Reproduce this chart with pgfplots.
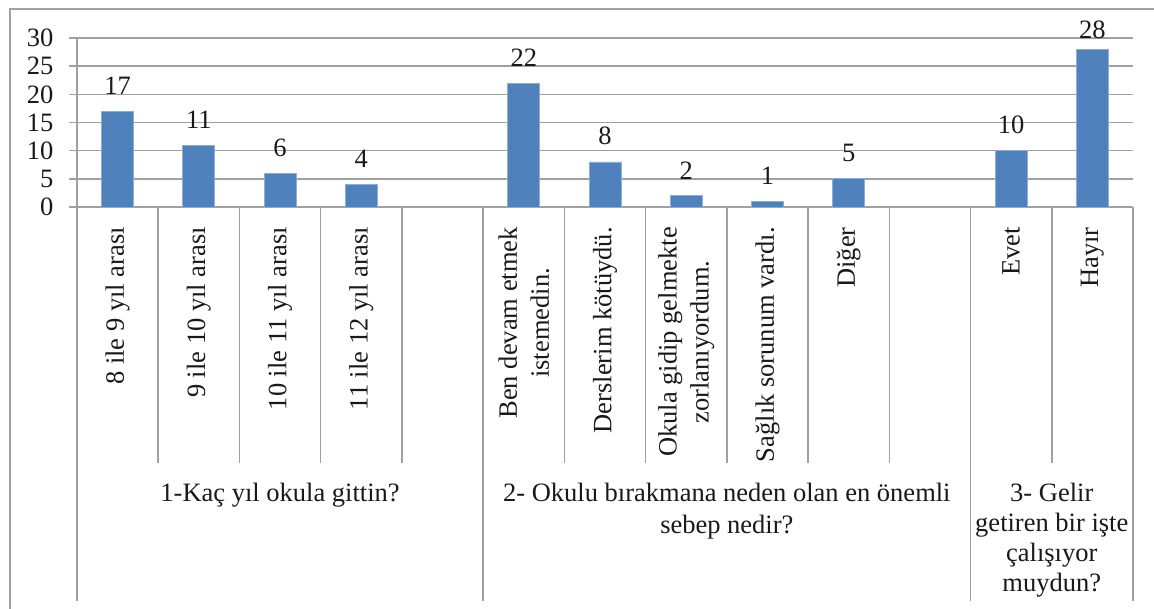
\documentclass[border=0pt]{standalone}
\usepackage{pgfplots}
\pgfplotsset{compat=1.18}
\usepackage{fontspec}
\setmainfont{Liberation Serif}
\definecolor{barblue}{RGB}{79,129,189}
\definecolor{baredge}{RGB}{140,175,215}
\definecolor{gridgray}{RGB}{160,160,160}
\definecolor{txt}{RGB}{25,25,25}
\newcommand{\lblfont}{\fontsize{26.5}{32}\selectfont}
\begin{document}
\begin{tikzpicture}
\path[use as bounding box] (0pt,0pt) rectangle (1154pt,608pt);
\draw[gridgray, line width=1.6pt] (10pt,-2pt) -- (10pt,599pt) -- (1156pt,599pt);
\begin{axis}[
  at={(77pt,401pt)}, anchor=south west,
  scale only axis, width=1056pt, height=169pt,
  xmin=-0.5, xmax=12.5, ymin=0, ymax=30,
  clip=false,
  axis x line*=bottom, axis y line*=left,
  axis line style={gridgray, line width=1.5pt, -},
  ytick={0,5,...,30},
  ymajorgrids, major grid style={gridgray, line width=1.5pt},
  ytick style={gridgray, line width=1.5pt},
  major tick length=8pt, tick align=outside,
  yticklabel style={font=\lblfont, text=txt, xshift=-12pt},
  /pgf/number format/assume math mode=true,
  xtick={0,...,12},
  xtick style={draw=none},
  xticklabels={8 ile 9 yıl arası, 9 ile 10 yıl arası, 10 ile 11 yıl arası, 11 ile 12 yıl arası, {}, {Ben devam etmek\\istemedin.}, Derslerim kötüydü., {Okula gidip gelmekte\\zorlanıyordum.}, Sağlık sorunum vardı., Diğer, {}, Evet, Hayır},
  xticklabel style={font=\lblfont, text=txt, yshift=-12pt, rotate=90, anchor=east, align=center, inner sep=0pt},
  every node near coord/.append style={font=\lblfont, text=txt},
]
\addplot[ybar, bar width=32pt, bar shift=0pt, fill=barblue, draw=baredge, line width=0.8pt,
  nodes near coords, every node near coord/.append style={yshift=13pt}]
  coordinates {(0,17) (1,11) (2,6) (3,4) (5,22) (6,8) (7,2) (8,1) (9,5) (11,10)};
\addplot[ybar, bar width=32pt, bar shift=0pt, fill=barblue, draw=baredge, line width=0.8pt,
  nodes near coords, every node near coord/.append style={yshift=7pt}]
  coordinates {(12,28)};
\pgfplotsinvokeforeach{0.5,1.5,2.5,3.5,5.5,6.5,7.5,8.5,9.5,11.5}{
  \draw[gridgray, line width=1.5pt] (axis cs:#1,0) -- ++(0pt,-256pt);
}
\pgfplotsinvokeforeach{-0.5,4.5,10.5,12.5}{
  \draw[gridgray, line width=1.5pt] (axis cs:#1,0) -- ++(0pt,-394pt);
}
\node[font=\lblfont, text=txt, anchor=north, align=center, inner sep=0pt] at (axis cs:2,0) [yshift=-276pt] {1-Kaç yıl okula gittin?};
\node[font=\lblfont, text=txt, anchor=north, align=center, inner sep=0pt] at (axis cs:7.5,0) [yshift=-276pt] {2- Okulu bırakmana neden olan en önemli\\sebep nedir?};
\node[font=\fontsize{26.5}{30}\selectfont, text=txt, anchor=north, align=center, inner sep=0pt] at (axis cs:11.5,0) [yshift=-276pt] {3- Gelir\\getiren bir işte\\çalışıyor\\muydun?};
\end{axis}
\end{tikzpicture}
\end{document}
